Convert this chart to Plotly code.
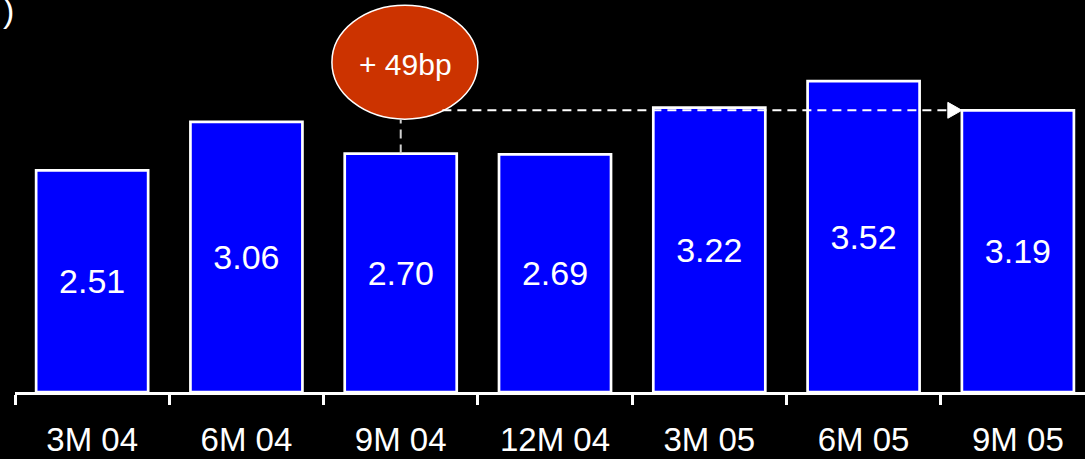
import plotly.graph_objects as go

categories = ["3M 04", "6M 04", "9M 04", "12M 04", "3M 05", "6M 05", "9M 05"]
values = [2.51, 3.06, 2.70, 2.69, 3.22, 3.52, 3.19]
labels = ["2.51", "3.06", "2.70", "2.69", "3.22", "3.52", "3.19"]
callout_text = "+ 49bp"

FONT = "Liberation Sans, Arial, sans-serif"
ref_i = 2   # 9M 04
tgt_i = 6   # 9M 05
bar_w = 0.726

fig = go.Figure()
fig.add_trace(go.Bar(
    x=categories, y=values, text=labels,
    textposition="inside", insidetextanchor="middle",
    textfont=dict(family=FONT, size=34, color="white"),
    marker=dict(color="#0000FF", line=dict(color="white", width=2.7)),
    width=bar_w, hoverinfo="skip",
))

# callout ellipse
fig.add_shape(type="circle", xref="x", yref="y",
              x0=1.554, x1=2.50, y0=3.09, y1=4.38,
              fillcolor="#CC3300", line=dict(color="white", width=1.5), layer="above")
fig.add_annotation(x=2.03, y=3.71, xref="x", yref="y", text=callout_text, showarrow=False,
                   font=dict(family=FONT, size=30, color="white"))
# dashed vertical connector
fig.add_shape(type="line", xref="x", yref="y", x0=ref_i, x1=ref_i,
              y0=values[ref_i], y1=3.09,
              line=dict(color="#D0D0D0", width=2, dash="9px,6px"), layer="above")
# dashed horizontal arrow
tip = tgt_i - bar_w / 2
fig.add_shape(type="line", xref="x", yref="y", x0=2.27, x1=tip - 0.08,
              y0=values[tgt_i], y1=values[tgt_i],
              line=dict(color="white", width=2, dash="9px,6px"), layer="above")
fig.add_shape(type="path", xref="x", yref="y",
              path=f"M {tip-0.091},{values[tgt_i]+0.09} L {tip},{values[tgt_i]} L {tip-0.091},{values[tgt_i]-0.09} Z",
              fillcolor="white", line=dict(color="white", width=1), layer="above")

# clipped title remnant
fig.add_annotation(x=-0.013, y=0.975, xref="paper", yref="paper", xanchor="left", yanchor="middle",
                   text=")", showarrow=False, font=dict(family=FONT, size=34, color="white"))

fig.update_layout(
    width=1085, height=459,
    margin=dict(l=15, r=0, t=0, b=67),
    paper_bgcolor="black", plot_bgcolor="black",
    showlegend=False,
    xaxis=dict(type="category", range=[-0.5, 6.435], showline=True, linecolor="white", linewidth=3,
               ticks="outside", tickson="boundaries", ticklen=10, tickwidth=2.5, tickcolor="white",
               ticklabelstandoff=16,
               tickfont=dict(family=FONT, size=33, color="white"), showgrid=False, zeroline=False,
               fixedrange=True),
    yaxis=dict(range=[0, 4.439], visible=False, showgrid=False, zeroline=False, fixedrange=True),
)

fig.write_html("out.html", config={"displayModeBar": False},
               post_script="document.body.style.margin='0';document.body.style.overflow='hidden';document.body.style.background='black';")
